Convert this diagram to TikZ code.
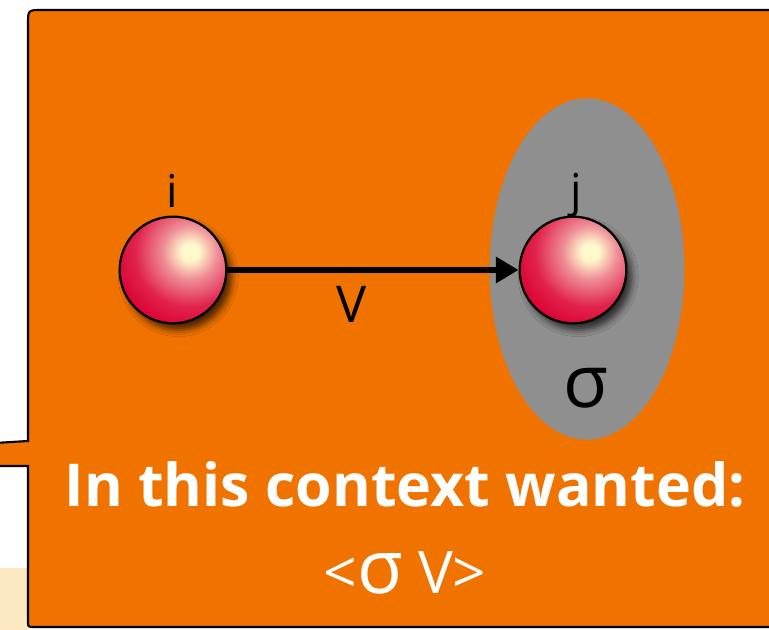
\documentclass[tikz,border=0pt]{standalone}
\usepackage{fontspec}
\setmainfont{Open Sans}
\usepackage{tikz}
\usetikzlibrary{arrows.meta,shapes.geometric,shadows.blur,calc}

\definecolor{calloutorange}{HTML}{F07300}
\definecolor{stripbeige}{HTML}{FDE9C1}
\definecolor{ctxgray}{HTML}{8F8F8F}
\definecolor{ballred}{HTML}{DC0032}
\definecolor{ballhilite}{HTML}{FFF8CC}
\definecolor{ballpink}{HTML}{EE8C96}

\pgfdeclareradialshading{hiball}{\pgfpointorigin}{%
  color(0bp)=(ballhilite); color(2.5bp)=(ballhilite);
  color(8bp)=(ballpink); color(16bp)=(ballred!75!ballpink);
  color(23bp)=(ballred); color(50bp)=(ballred)}

\begin{document}
\begin{tikzpicture}[
  x=0.75pt, y=-0.75pt,
  atom/.style={circle, draw, line width=1.7pt, minimum size=80pt, inner sep=0pt,
               fill=ballred,
               path picture={
                 \shade[shading=hiball]
                   ($(path picture bounding box.center)+(17,-18)$) circle (86);
               },
               blur shadow={shadow xshift=4pt, shadow yshift=-5pt,
                            shadow blur radius=5pt, shadow opacity=70}},
  sitelabel/.style={anchor=base, font=\fontsize{34}{34}\selectfont},
  hop/.style={-{Triangle[length=17pt,width=19pt]}, line width=4pt},
  bigtext/.style={anchor=base, text=white}
]
\clip (0,0) rectangle (769,630);
\useasboundingbox (0,0) rectangle (769,630);

% background strip and callout frame
\fill[stripbeige] (0,568) rectangle (28,630);
\draw[fill=calloutorange, line width=1.6pt]
  (-5,443) -- (28,441) -- (28,24) .. controls (28,10) .. (42,10) -- (800,10)
  -- (800,627) -- (34,627) .. controls (28,627) .. (28,621) -- (28,466) -- (-5,466);

% context of site j
\node[ellipse, fill=ctxgray, minimum width=146pt, minimum height=256pt, inner sep=0pt]
  (ctx) at (587,269) {};

% sites
\node[atom] (si) at (173,270) {};
\node[atom] (sj) at (573,270) {};
\node[sitelabel] (li) at (172,208) {i};
\node[sitelabel] (lj) at (576,207) {j};

% hopping
\draw[hop] (si) -- (sj);
\node[anchor=base, font=\fontsize{38}{38}\selectfont] (lv) at (352,323) {V};
\node[anchor=base, font=\fontsize{55}{55}\selectfont] (lsigma) at (586,408) {σ};

% caption
\node[bigtext, font=\bfseries\fontsize{44.3}{44.3}\selectfont] (want) at (405,507)
  {In this context wanted:};
\node[bigtext, font=\fontsize{44}{44}\selectfont] (avg) at (405,594)
  {<{\fontsize{56}{56}\selectfont σ} V>};
\end{tikzpicture}
\end{document}
